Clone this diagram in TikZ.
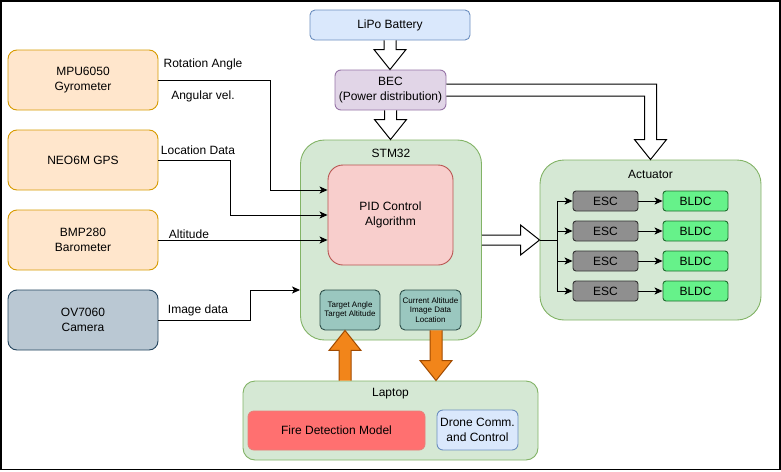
\documentclass[tikz,border=0pt]{standalone}
\usepackage{fontspec}
\setmainfont{Liberation Sans}
\usetikzlibrary{arrows.meta,calc}

\definecolor{sensorfill}{HTML}{FFE6CC}
\definecolor{sensorline}{HTML}{D79B00}
\definecolor{bluefill}{HTML}{DAE8FC}
\definecolor{blueline}{HTML}{6C8EBF}
\definecolor{becfill}{HTML}{E1D5E7}
\definecolor{becline}{HTML}{9673A6}
\definecolor{greenfill}{HTML}{D5E8D4}
\definecolor{greenline}{HTML}{82B366}
\definecolor{pidfill}{HTML}{F8CECC}
\definecolor{pidline}{HTML}{B85450}
\definecolor{camfill}{HTML}{BAC8D3}
\definecolor{camline}{HTML}{23445D}
\definecolor{tealfill}{HTML}{9AC7BF}
\definecolor{tealline}{HTML}{2D4F4A}
\definecolor{escfill}{HTML}{8F8F8F}
\definecolor{escline}{HTML}{333333}
\definecolor{bldcfill}{HTML}{66F28A}
\definecolor{bldcline}{HTML}{1F6B2E}
\definecolor{firefill}{HTML}{FF7070}
\definecolor{fireline}{HTML}{E8807A}
\definecolor{linkfill}{HTML}{F2851A}
\definecolor{linkline}{HTML}{A04A00}

\tikzset{
  block/.style={draw, rounded corners=#1, align=center, inner sep=1pt,
    font=\fontsize{12}{15}\selectfont, line width=0.9pt},
  block/.default=8pt,
  dims/.style 2 args={minimum width=#1pt, minimum height=#2pt},
  sensor/.style={block=9pt, fill=sensorfill, draw=sensorline, dims={150}{60}},
  membox/.style={draw=tealline, fill=tealfill, rounded corners=5pt, align=center,
    inner sep=1pt, font=\fontsize{8}{9.5}\selectfont, line width=0.9pt, dims={60}{40}},
  lbl/.style={inner sep=0pt, font=\fontsize{12}{14}\selectfont},
  conn/.style={line width=1pt, -{Stealth[length=8pt,width=7pt,inset=2pt]}},
  hollow/.style={draw, fill=white, line width=1pt, line join=miter},
  link/.style={draw=linkline, fill=linkfill, line width=1pt, line join=miter}
}

% wide arrow, straight up or down, head at the second point
\newcommand{\vflexarrow}[3][hollow]{%
  \draw[#1] let \p1=(#2), \p2=(#3), \n1={ifthenelse(\y1>\y2,20,-20)} in
    (\x1-6,\y1) -- (\x1-6,\y2+\n1) -- (\x1-16,\y2+\n1) -- (\x1,\y2)
    -- (\x1+16,\y2+\n1) -- (\x1+6,\y2+\n1) -- (\x1+6,\y1);}

\begin{document}
\begin{tikzpicture}[x=1pt, y=-1pt]
  \useasboundingbox (0,0) rectangle (781,471);
  \draw[line width=1.5pt] (1,1) rectangle (780,469.5);

  % sensors
  \node[sensor] (mpu) at (83,80) {MPU6050\\Gyrometer};
  \node[sensor] (neo) at (83,160) {NEO6M GPS};
  \node[sensor] (bmp) at (83,240) {BMP280\\Barometer};
  \node[sensor, fill=camfill, draw=camline] (cam) at (83,320) {OV7060\\Camera};

  % power
  \node[block=5pt, fill=bluefill, draw=blueline, dims={160}{30}] (lipo) at (390,25) {LiPo Battery};
  \node[block=6pt, fill=becfill, draw=becline, dims={111}{40}] (bec) at (390.5,90) {BEC\\(Power distribution)};

  % STM32
  \node[block=24pt, fill=greenfill, draw=greenline, dims={181}{200}] (stm) at (391,240) {};
  \node[lbl] (stmlbl) at (391,153) {STM32};
  \node[block=15pt, fill=pidfill, draw=pidline, dims={125}{100}] (pid) at (390.5,215) {PID Control\\Algorithm};
  \node[membox] (target) at (350,310) {Target Angle\\Target Altitude};
  \node[membox, minimum width=61pt] (current) at (430.5,310) {Current Altitude\\Image Data\\Location};

  % laptop
  \node[block=12pt, fill=greenfill, draw=greenline, dims={295}{79}] (laptop) at (390.5,420.5) {};
  \node[lbl] (laptoplbl) at (390.5,394) {Laptop};
  \node[block=6pt, fill=firefill, draw=fireline, dims={177}{39}] (fire) at (336.5,430.5) {Fire Detection Model};
  \node[block=6pt, fill=bluefill, draw=blueline, dims={81}{40}] (drone) at (477.5,430) {Drone Comm.\\and Control};

  % actuator
  \node[block=24pt, fill=greenfill, draw=greenline, dims={221}{160}] (act) at (650.5,240) {};
  \node[lbl] (actlbl) at (650.5,174) {Actuator};
  \coordinate (split) at (557,240);
  \draw[line width=1pt] (act.west) -- (split);
  \foreach \i in {1,...,4} {
    \node[block=3pt, fill=escfill, draw=escline, dims={65}{20}] (esc\i) at (605.5,171+30*\i) {ESC};
    \node[block=3pt, fill=bldcfill, draw=bldcline, dims={65}{20}] (bldc\i) at (695.5,171+30*\i) {BLDC};
    \draw[conn] (split) |- (esc\i.west);
    \draw[conn] (esc\i) -- (bldc\i);
  }

  % sensor data
  \draw[conn] (mpu.east) -- ++(112,0) |- ([yshift=25pt]pid.west);
  \draw[conn] (neo.east) -- ++(72,0) |- (pid.west);
  \draw[conn] (bmp.east) -- (bmp.east -| pid.west);
  \draw[conn] (cam.east) -- ++(92,0) |- ([yshift=-50pt]stm.west);
  \node[lbl] (rotlbl) at (203,64) {Rotation Angle};
  \node[lbl] (vellbl) at (203,96) {Angular vel.};
  \node[lbl] (loclbl) at (198,150) {Location Data};
  \node[lbl] (altlbl) at (189,234) {Altitude};
  \node[lbl] (imglbl) at (198,310) {Image data};

  % power flow
  \vflexarrow{lipo.south}{bec.north}
  \vflexarrow{bec.south}{stm.north}
  \draw[hollow] let \p1=(bec.east), \p2=(act.north) in
    (\x1,\y1+6) -- (\x2+6,\y1+6) -- (\x2+6,\y2+20) -- (\x2+16,\y2+20) -- (\x2,\y2)
    -- (\x2-16,\y2+20) -- (\x2-6,\y2+20) -- (\x2-6,\y1-6) -- (\x1,\y1-6);
  \draw[hollow] let \p1=(stm.east), \p2=(act.west) in
    (\x1,\y1+5) -- (\x2-19,\y1+5) -- (\x2-19,\y1+15) -- (\x2,\y1)
    -- (\x2-19,\y1-15) -- (\x2-19,\y1-5) -- (\x1,\y1-5);

  % laptop link
  \coordinate (upbase) at ([xshift=-5pt]target.south);
  \coordinate (downbase) at ([xshift=5.5pt]current.south);
  \vflexarrow[link]{upbase |- laptop.north}{upbase}
  \vflexarrow[link]{downbase}{downbase |- laptop.north}
\end{tikzpicture}
\end{document}
